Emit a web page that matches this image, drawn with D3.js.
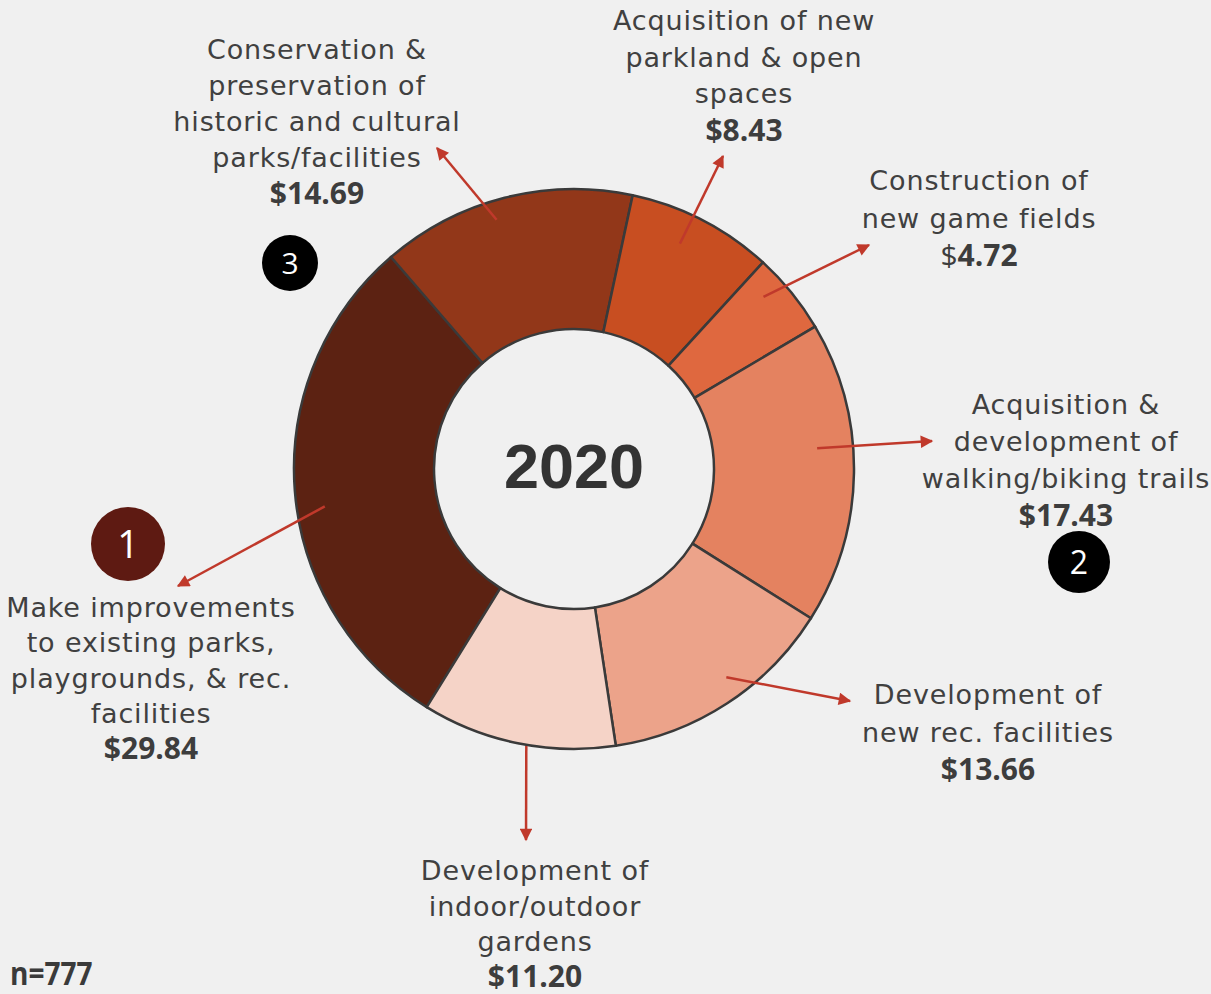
<!DOCTYPE html>
<html lang="en">
  <head>
    <meta charset="utf-8" />
    <title>2020 donut</title>
    <script src="https://cdnjs.cloudflare.com/ajax/libs/d3/7.8.5/d3.min.js"></script>
    <style>
      body {
        margin: 0;
        background: #f0f0f0;
      }
      svg {
        display: block;
      }
      .lbl {
        font-family: "DejaVu Sans", sans-serif;
        font-size: 27px;
        letter-spacing: 0.85px;
        fill: #404040;
      }
      .val {
        font-family: "Open Sans", sans-serif;
        font-weight: 700;
        font-size: 30px;
        fill: #3d3d3d;
      }
    </style>
  </head>
  <body>
    <div id="chart"></div>
    <script>
      // values, clockwise from the "Make improvements" slice
      const categories = [
        "Make improvements to existing parks, playgrounds, & rec. facilities",
        "Conservation & preservation of historic and cultural parks/facilities",
        "Acquisition of new parkland & open spaces",
        "Construction of new game fields",
        "Acquisition & development of walking/biking trails",
        "Development of new rec. facilities",
        "Development of indoor/outdoor gardens",
      ];
      const values = [29.84, 14.69, 8.43, 4.72, 17.43, 13.66, 11.2];
      const labelLines = [
        ["Make improvements", "to existing parks,", "playgrounds, & rec.", "facilities"],
        ["Conservation &", "preservation of", "historic and cultural", "parks/facilities"],
        ["Acquisition of new", "parkland & open", "spaces"],
        ["Construction of", "new game fields"],
        ["Acquisition &", "development of", "walking/biking trails"],
        ["Development of", "new rec. facilities"],
        ["Development of", "indoor/outdoor", "gardens"],
      ];
      const ranks = [1, 3, null, null, 2, null, null];
      const colors = ["#5c2212", "#923719", "#c84e21", "#df683f", "#e48260", "#eca38a", "#f5d3c7"];
      const yearLabel = "2020";
      const sampleLabel = "n=777";

      // label placement: text centre x, first baseline, line height,
      // arrow tip, arrow start (radius, angle offset from slice middle in deg)
      const layout = [
        { x: 151, y: 617, lh: 35.3, tip: [178, 586], r: 252, da: -4 },
        { x: 317, y: 59, lh: 36, tip: [437, 148], r: 261, da: -2.9 },
        { x: 744, y: 30, lh: 36.7, tip: [723, 156], r: 249, da: -2.1 },
        { x: 979, y: 190, lh: 37.5, tip: [869, 245], r: 256, da: -3.2 },
        { x: 1066, y: 414, lh: 37, tip: [932, 441], r: 244, da: -5.7 },
        { x: 988, y: 704, lh: 37.5, tip: [850, 701], r: 258, da: -3 },
        { x: 535, y: 880, lh: 35.5, tip: [526, 840], r: 281, da: -1.8 },
      ];
      const badges = [
        { rank: 1, x: 128, y: 544, r: 37, fill: "#5e1a12", size: 38 },
        { rank: 2, x: 1079, y: 562, r: 31, fill: "#000", size: 32 },
        { rank: 3, x: 290, y: 263, r: 28, fill: "#000", size: 30 },
      ];

      const width = 1211;
      const height = 994;
      const cx = 574;
      const cy = 469;
      const outerR = 280;
      const innerR = 140;
      const start = (-148.26 * Math.PI) / 180;

      const svg = d3
        .select("#chart")
        .append("svg")
        .attr("width", width)
        .attr("height", height);

      svg
        .append("defs")
        .append("marker")
        .attr("id", "head")
        .attr("viewBox", "0 0 10 10")
        .attr("refX", 9)
        .attr("refY", 5)
        .attr("markerWidth", 6)
        .attr("markerHeight", 5)
        .attr("markerUnits", "strokeWidth")
        .attr("orient", "auto")
        .append("path")
        .attr("d", "M0,0L10,5L0,10Z")
        .attr("fill", "#c0392b");

      const pie = d3
        .pie()
        .sort(null)
        .value((d) => d)
        .startAngle(start)
        .endAngle(start + 2 * Math.PI);
      const arcs = pie(values);
      const arc = d3.arc().innerRadius(innerR).outerRadius(outerR);

      const g = svg.append("g").attr("transform", `translate(${cx},${cy})`);

      g.selectAll("path")
        .data(arcs)
        .enter()
        .append("path")
        .attr("d", arc)
        .attr("fill", (d, i) => colors[i])
        .attr("stroke", "#3a3a3a")
        .attr("stroke-width", 2.5)
        .attr("stroke-linejoin", "round");

      g.append("text")
        .attr("text-anchor", "middle")
        .attr("y", 19)
        .attr("font-family", "Liberation Sans, Arial, sans-serif")
        .attr("font-weight", 700)
        .attr("font-size", 63)
        .attr("fill", "#333")
        .text(yearLabel);

      // arrows
      arcs.forEach((d, i) => {
        const L = layout[i];
        const a = (d.startAngle + d.endAngle) / 2 + (L.da * Math.PI) / 180;
        const x0 = cx + L.r * Math.sin(a);
        const y0 = cy - L.r * Math.cos(a);
        svg
          .append("line")
          .attr("x1", x0)
          .attr("y1", y0)
          .attr("x2", L.tip[0])
          .attr("y2", L.tip[1])
          .attr("stroke", "#c0392b")
          .attr("stroke-width", 2.5)
          .attr("marker-end", "url(#head)");
      });

      // labels
      labelLines.forEach((lines, i) => {
        const L = layout[i];
        const t = svg.append("g");
        lines.forEach((s, k) => {
          t.append("text")
            .attr("class", "lbl")
            .attr("x", L.x)
            .attr("y", L.y + k * L.lh)
            .attr("text-anchor", "middle")
            .text(s);
        });
        const v = t
          .append("text")
          .attr("class", "val")
          .attr("x", L.x)
          .attr("y", Math.min(L.y + lines.length * L.lh + 1, 987))
          .attr("text-anchor", "middle");
        const num = d3.format(".2f")(values[i]);
        if (i === 3) {
          // "$" is not bold on this one in the original
          v.append("tspan").attr("font-weight", 400).text("$");
          v.append("tspan").text(num);
        } else {
          v.text("$" + num);
        }
      });

      // rank badges
      badges.forEach((b) => {
        svg
          .append("circle")
          .attr("cx", b.x)
          .attr("cy", b.y)
          .attr("r", b.r)
          .attr("fill", b.fill);
        svg
          .append("text")
          .attr("x", b.x)
          .attr("y", b.y + b.size * 0.36)
          .attr("text-anchor", "middle")
          .attr("font-family", "Open Sans, sans-serif")
          .attr("font-size", b.size)
          .attr("fill", "#fff")
          .text(b.rank);
      });

      svg
        .append("text")
        .attr("transform", "translate(10,985) scale(0.85,1)")
        .attr("font-family", "Open Sans, sans-serif")
        .attr("font-weight", 700)
        .attr("font-size", 33)
        .attr("fill", "#3a3a3a")
        .text(sampleLabel);
    </script>
  </body>
</html>
